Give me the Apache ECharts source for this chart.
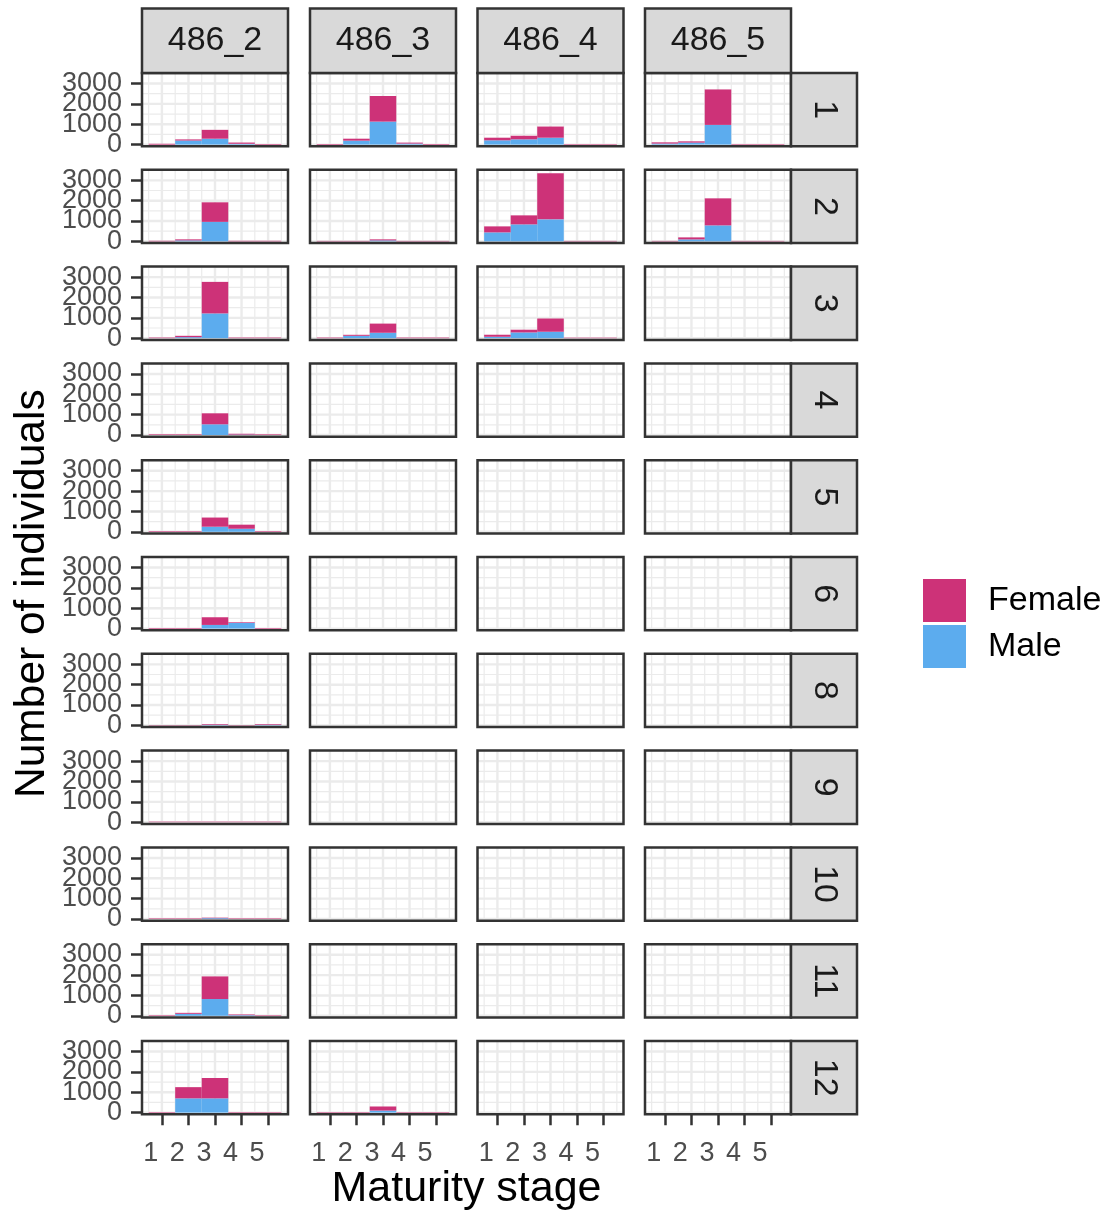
<!DOCTYPE html>
<html><head><meta charset="utf-8">
<script src="https://cdn.jsdelivr.net/npm/echarts@6/dist/echarts.min.js"></script>
<style>html,body{margin:0;padding:0;background:#fff}#c{width:1108px;height:1214px}</style>
</head><body><div id="c"></div>
<script>
// ---------------- data ----------------
const sites = ['486_2', '486_3', '486_4', '486_5'];
const months = ['1', '2', '3', '4', '5', '6', '8', '9', '10', '11', '12'];
const stages = [1, 2, 3, 4, 5];
const xTickValues = [1, 2, 3, 4, 5];
const xMinorValues = [0.5, 1.5, 2.5, 3.5, 4.5, 5.5];
const yTickValues = [0, 1000, 2000, 3000];
const yMinorValues = [500, 1500, 2500, 3500];

// counts per maturity stage (1..5); one row per month; null = no samples
const male_486_2 = [
  [0, 200, 290, 40, 0],
  [0, 50, 960, 0, 0],
  [0, 50, 1217, 0, 0],
  [0, 0, 525, 20, 0],
  [0, 0, 250, 150, 0],
  [0, 0, 180, 279, 0],
  [0, 0, 30, 0, 30],
  [0, 0, 0, 0, 0],
  [0, 0, 40, 0, 0],
  [0, 97, 823, 30, 0],
  [0, 700, 700, 0, 0]
];
const female_486_2 = [
  [40, 55, 435, 60, 30],
  [30, 50, 960, 30, 30],
  [30, 67, 1550, 30, 30],
  [30, 30, 540, 40, 30],
  [30, 30, 450, 200, 30],
  [30, 30, 377, 32, 30],
  [20, 20, 33, 20, 33],
  [25, 25, 25, 25, 25],
  [25, 25, 25, 25, 25],
  [25, 48, 1112, 35, 25],
  [25, 550, 1000, 25, 25]
];
const male_486_3 = [
  [0, 194, 1129, 50, 0],
  [0, 0, 50, 0, 0],
  [0, 117, 267, 0, 0],
  null, null, null, null, null, null, null,
  [0, 0, 100, 0, 0]
];
const female_486_3 = [
  [30, 96, 1258, 47, 30],
  [25, 25, 50, 25, 25],
  [30, 50, 450, 30, 30],
  null, null, null, null, null, null, null,
  [25, 25, 200, 25, 25]
];
const male_486_4 = [
  [210, 258, 339, 0, 0],
  [443, 836, 1082, 0, 0],
  [70, 283, 317, 0, 0],
  null, null, null, null, null, null, null, null
];
const female_486_4 = [
  [129, 177, 548, 25, 25],
  [295, 443, 2268, 25, 25],
  [100, 134, 650, 25, 25],
  null, null, null, null, null, null, null, null
];
const male_486_5 = [
  [50, 97, 968, 0, 0],
  [0, 98, 787, 0, 0],
  null, null, null, null, null, null, null, null, null
];
const female_486_5 = [
  [60, 63, 1742, 25, 25],
  [25, 99, 1328, 25, 25],
  null, null, null, null, null, null, null, null, null
];
const maleBySite = [male_486_2, male_486_3, male_486_4, male_486_5];
const femaleBySite = [female_486_2, female_486_3, female_486_4, female_486_5];

// ---------------- style / layout ----------------
const FONT = "'Liberation Sans', Arial, Helvetica, sans-serif";
const COL_F = '#CD3278', COL_M = '#5CACEE';
const GRIDC = '#EBEBEB', BORDER = '#333333';
const colLeft = [142, 310, 477.5, 645];
const panelW = 146, panelH = 73.3, rowTop0 = 73, rowPitch = 96.8;
const stripTop = 8.5, stripRW = 66;

// axis ranges (expanded around the data)
let maxTotal = 0;
maleBySite.forEach((ms, s) => ms.forEach((row, r) => {
  if (!row) return;
  row.forEach((m, k) => { maxTotal = Math.max(maxTotal, m + femaleBySite[s][r][k]); });
}));
const yMin = -0.025 * maxTotal, yMax = 1.05 * maxTotal;
const xMin = 0.5 - 0.05 * 5, xMax = 5.5 + 0.05 * 5;

function renderGrid(params, api) {
  const cs = params.coordSys;
  const v = api.value(0), dir = api.value(1), major = api.value(2);
  const w = major ? 2.4 : 1.2;
  if (dir === 0) {
    const x = api.coord([v, 0])[0];
    return { type: 'line', shape: { x1: x, y1: cs.y, x2: x, y2: cs.y + cs.height }, style: { stroke: GRIDC, lineWidth: w } };
  }
  const y = api.coord([1, v])[1];
  return { type: 'line', shape: { x1: cs.x, y1: y, x2: cs.x + cs.width, y2: y }, style: { stroke: GRIDC, lineWidth: w } };
}
function renderBar(params, api) {
  const x = api.value(0), y0 = api.value(1), y1 = api.value(2);
  if (y1 <= y0) return null;
  const p0 = api.coord([x - 0.5, y1]);
  const p1 = api.coord([x + 0.5, y0]);
  return { type: 'rect', shape: { x: p0[0], y: p0[1], width: p1[0] - p0[0], height: p1[1] - p0[1] }, style: { fill: api.visual('color') } };
}

const gridLineData = []
  .concat(xTickValues.map(v => [v, 0, 1]))
  .concat(xMinorValues.map(v => [v, 0, 0]))
  .concat(yTickValues.map(v => [v, 1, 1]))
  .concat(yMinorValues.map(v => [v, 1, 0]));

// labels overlap (ggplot keeps them all): split the y ticks over two identical left axes
const yTickSets = [yTickValues.filter((v, i) => i % 2 === 0), yTickValues.filter((v, i) => i % 2 === 1)];

const plain = v => String(v);
const grids = [], xAxes = [], yAxes = [], series = [], graphics = [];
months.forEach((mon, r) => {
  const top = rowTop0 + r * rowPitch;
  sites.forEach((site, c) => {
    const gi = grids.length;
    const isBottom = r === months.length - 1, isLeft = c === 0;
    grids.push({ left: colLeft[c], top: top, width: panelW, height: panelH, show: false, containLabel: false });
    xAxes.push({
      gridIndex: gi, type: 'value', min: xMin, max: xMax,
      axisLine: { show: false, onZero: false }, splitLine: { show: false },
      axisTick: { show: isBottom, customValues: xTickValues, length: 11, lineStyle: { color: BORDER, width: 2.5 } },
      axisLabel: { show: isBottom, customValues: xTickValues, formatter: plain, margin: 26, fontSize: 27,
        color: '#4D4D4D', fontFamily: FONT, align: 'right', padding: [0, 3.6, 0, 0],
        showMinLabel: true, showMaxLabel: true, hideOverlap: false }
    });
    const yIdx = yAxes.length;
    yTickSets.forEach(vals => {
      yAxes.push({
        gridIndex: gi, type: 'value', position: 'left', offset: 0, min: yMin, max: yMax,
        axisLine: { show: false, onZero: false }, splitLine: { show: false },
        axisTick: { show: isLeft, customValues: vals, length: 11, lineStyle: { color: BORDER, width: 2.5 } },
        axisLabel: { show: isLeft, customValues: vals, formatter: plain, margin: 20, fontSize: 27,
          color: '#4D4D4D', fontFamily: FONT, showMinLabel: true, showMaxLabel: true, hideOverlap: false }
      });
    });
    series.push({ type: 'custom', name: 'grid', xAxisIndex: gi, yAxisIndex: yIdx, silent: true, z: 1,
      data: gridLineData, renderItem: renderGrid });
    const male = maleBySite[c][r], female = femaleBySite[c][r];
    if (male) {
      series.push({ type: 'custom', name: 'Male', xAxisIndex: gi, yAxisIndex: yIdx, z: 3,
        itemStyle: { color: COL_M },
        data: stages.map((s, k) => [s, 0, male[k]]), renderItem: renderBar });
      series.push({ type: 'custom', name: 'Female', xAxisIndex: gi, yAxisIndex: yIdx, z: 3,
        itemStyle: { color: COL_F },
        data: stages.map((s, k) => [s, male[k], male[k] + female[k]]), renderItem: renderBar });
    }
    graphics.push({ type: 'rect', z: 100, silent: true,
      shape: { x: colLeft[c], y: top, width: panelW, height: panelH },
      style: { fill: 'none', stroke: BORDER, lineWidth: 2.5 } });
  });
  // right strip
  const sx = colLeft[3] + panelW;
  graphics.push({ type: 'rect', z: 100, silent: true,
    shape: { x: sx, y: top, width: stripRW, height: panelH },
    style: { fill: '#D9D9D9', stroke: BORDER, lineWidth: 2.5 } });
  graphics.push({ type: 'text', z: 101, silent: true, x: sx + stripRW / 2, y: top + panelH / 2, rotation: -Math.PI / 2,
    style: { text: mon, font: '34px ' + FONT, fill: '#1A1A1A', align: 'center', verticalAlign: 'middle', textAlign: 'center', textVerticalAlign: 'middle' } });
});
sites.forEach((site, c) => {
  graphics.push({ type: 'rect', z: 100, silent: true,
    shape: { x: colLeft[c], y: stripTop, width: panelW, height: rowTop0 - stripTop },
    style: { fill: '#D9D9D9', stroke: BORDER, lineWidth: 2.5 } });
  graphics.push({ type: 'text', z: 101, silent: true, x: colLeft[c] + panelW / 2, y: (stripTop + rowTop0) / 2,
    style: { text: site, font: '34px ' + FONT, fill: '#1A1A1A', align: 'center', verticalAlign: 'middle', textAlign: 'center', textVerticalAlign: 'middle' } });
});
// axis titles
const panelsRight = colLeft[3] + panelW;
const panelsBottom = rowTop0 + (months.length - 1) * rowPitch + panelH;
graphics.push({ type: 'text', z: 101, silent: true, x: (colLeft[0] + panelsRight) / 2, y: 1189,
  style: { text: 'Maturity stage', font: '43px ' + FONT, fill: '#000', align: 'center', verticalAlign: 'middle', textAlign: 'center', textVerticalAlign: 'middle' } });
graphics.push({ type: 'text', z: 101, silent: true, x: 32, y: (rowTop0 + panelsBottom) / 2, rotation: Math.PI / 2,
  style: { text: 'Number of individuals', font: '42.5px ' + FONT, fill: '#000', align: 'center', verticalAlign: 'middle', textAlign: 'center', textVerticalAlign: 'middle' } });

const chart = echarts.init(document.getElementById('c'), null, { renderer: 'canvas' });
chart.setOption({
  animation: false,
  backgroundColor: '#fff',
  grid: grids, xAxis: xAxes, yAxis: yAxes, series: series,
  legend: {
    data: [{ name: 'Female', icon: 'rect' }, { name: 'Male', icon: 'rect' }],
    orient: 'vertical', left: 923, top: 579, padding: 0,
    itemWidth: 43, itemHeight: 43, itemGap: 3, selectedMode: false,
    textStyle: { fontSize: 34, color: '#000', fontFamily: FONT, padding: [0, 0, 0, 17] }
  },
  graphic: { elements: graphics }
});
</script>
</body></html>
